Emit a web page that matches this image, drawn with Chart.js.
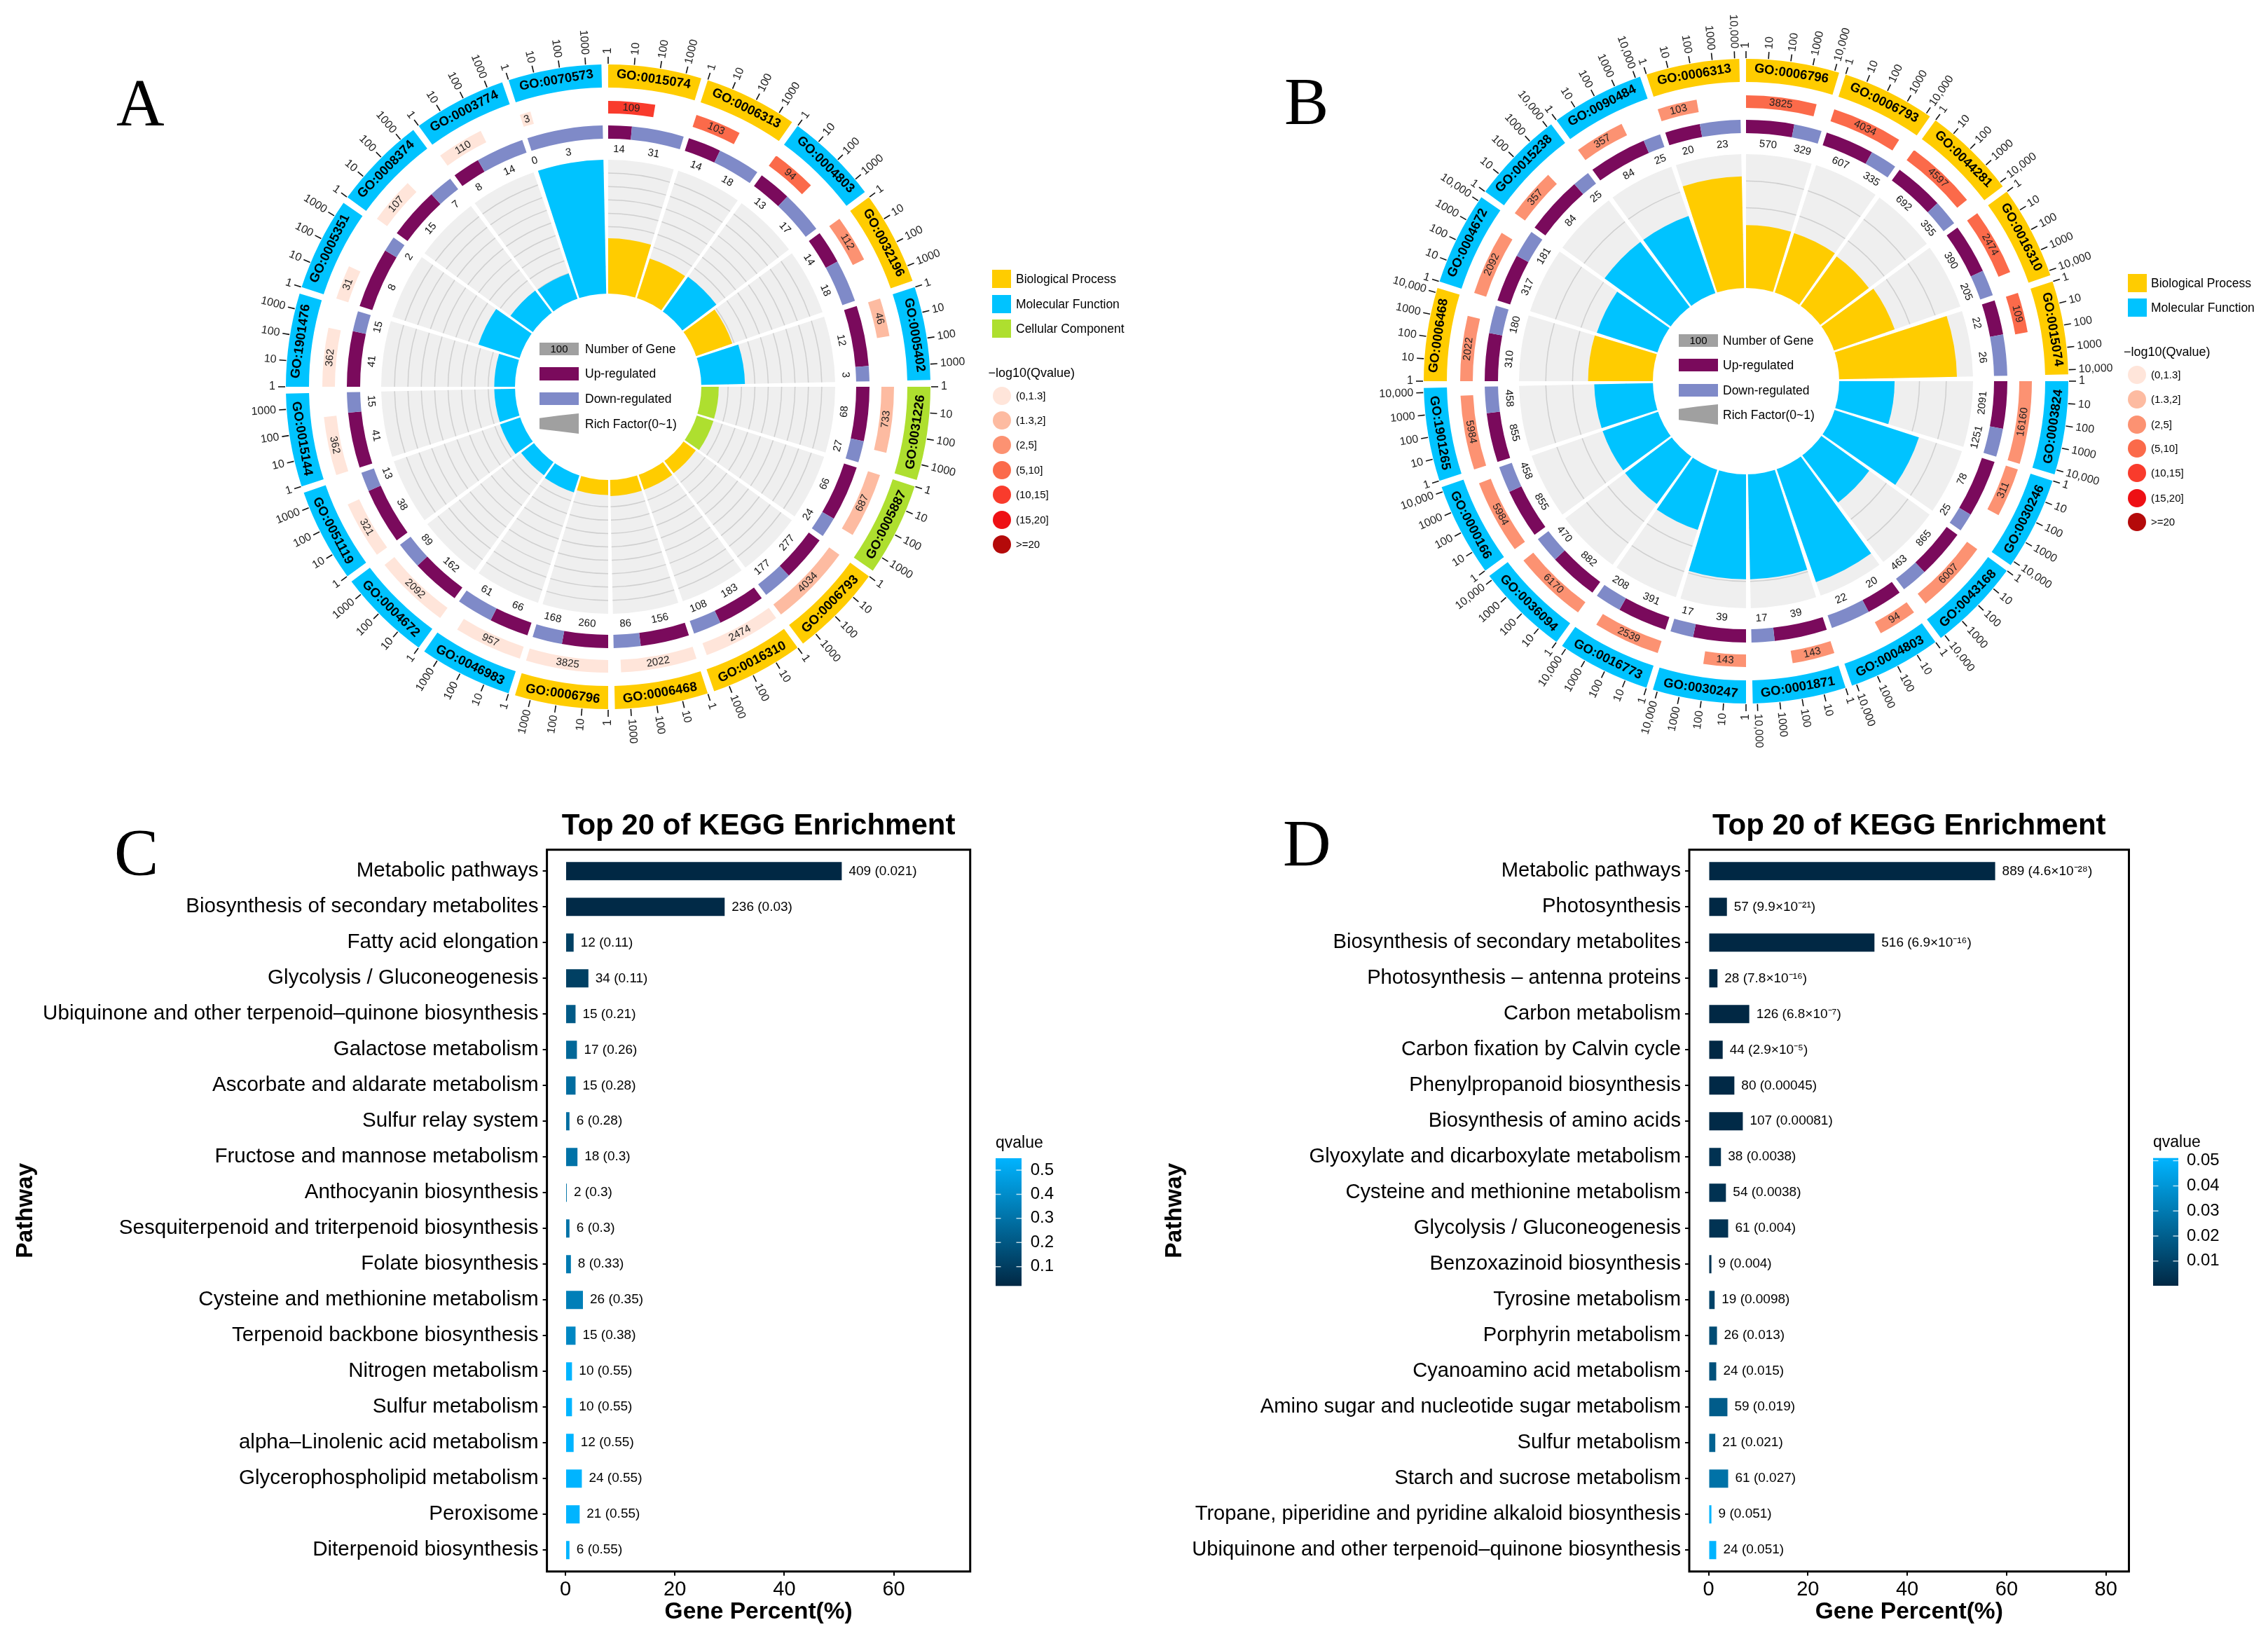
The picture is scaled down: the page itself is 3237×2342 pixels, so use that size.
<!DOCTYPE html>
<html><head><meta charset="utf-8">
<script src="https://cdn.jsdelivr.net/npm/chart.js@4"></script>
<style>
html,body{margin:0;padding:0;background:#fff;width:3237px;height:2342px;overflow:hidden;font-family:"Liberation Sans",Arial,sans-serif;color:#000}
canvas{position:absolute}
.t{position:absolute;line-height:0;white-space:nowrap;z-index:5}
.b{position:absolute;z-index:5}
</style></head><body>
<script>
// ---------- Panel A data (clockwise from 12 o'clock) ----------
const goA=['GO:0015074','GO:0006313','GO:0004803','GO:0032196','GO:0005402','GO:0031226','GO:0005887','GO:0006793','GO:0016310','GO:0006468','GO:0006796','GO:0046983','GO:0004672','GO:0051119','GO:0015144','GO:1901476','GO:0005351','GO:0008374','GO:0003774','GO:0070573'];
const catA=['BP','BP','MF','BP','MF','CC','CC','BP','BP','BP','BP','MF','MF','MF','MF','MF','MF','MF','MF','MF'];
const countA=[109,103,94,112,46,733,687,4034,2474,2022,3825,957,2092,321,362,362,31,107,110,3];
const qBinA=[4,3,3,2,1,1,1,1,0,0,0,0,0,0,0,0,0,0,0,0];
const upA=[14,14,13,14,12,68,66,277,183,156,260,66,162,38,41,41,8,15,8,0];
const downA=[31,18,17,18,3,27,24,177,108,86,168,61,89,13,15,15,2,7,14,3];
const richA=[0.413,0.311,0.319,0.286,0.326,0.13,0.131,0.113,0.118,0.12,0.112,0.133,0.12,0.159,0.155,0.155,0.323,0.206,0.2,1.0];
const tickA=[1,10,100,1000];
const tickLabA=['1','10','100','1000'];
const gridA=[0.1,0.2,0.3,0.4,0.5,0.6,0.7,0.8,0.9];
// ---------- Panel B data ----------
const goB=['GO:0006796','GO:0006793','GO:0044281','GO:0016310','GO:0015074','GO:0003824','GO:0030246','GO:0043168','GO:0004803','GO:0001871','GO:0030247','GO:0016773','GO:0036094','GO:0000166','GO:1901265','GO:0006468','GO:0004672','GO:0015238','GO:0090484','GO:0006313'];
const catB=['BP','BP','BP','BP','BP','MF','MF','MF','MF','MF','MF','MF','MF','MF','MF','BP','MF','MF','MF','BP'];
const countB=[3825,4034,4597,2474,109,16160,311,6007,94,143,143,2539,6170,5984,5984,2022,2092,357,357,103];
const qBinB=[3,3,3,3,3,2,2,2,2,2,2,2,2,2,2,2,2,2,2,2];
const upB=[570,607,692,390,22,2091,78,865,20,39,39,391,882,855,855,310,317,84,84,20];
const downB=[329,335,355,205,26,1251,25,463,22,17,17,208,470,458,458,180,181,25,25,23];
const richB=[0.235,0.2335,0.228,0.24,0.44,0.207,0.331,0.221,0.447,0.392,0.392,0.236,0.219,0.219,0.219,0.242,0.238,0.305,0.305,0.417];
const tickB=[1,10,100,1000,10000];
const tickLabB=['1','10','100','1000','10,000'];
const gridB=[0.1,0.2,0.3,0.4];
// ---------- Panel C data ----------
const pathC=['Metabolic pathways','Biosynthesis of secondary metabolites','Fatty acid elongation','Glycolysis / Gluconeogenesis','Ubiquinone and other terpenoid\u2013quinone biosynthesis','Galactose metabolism','Ascorbate and aldarate metabolism','Sulfur relay system','Fructose and mannose metabolism','Anthocyanin biosynthesis','Sesquiterpenoid and triterpenoid biosynthesis','Folate biosynthesis','Cysteine and methionine metabolism','Terpenoid backbone biosynthesis','Nitrogen metabolism','Sulfur metabolism','alpha\u2013Linolenic acid metabolism','Glycerophospholipid metabolism','Peroxisome','Diterpenoid biosynthesis'];
const pctC=[50.5,29.1,1.5,4.2,1.85,2.1,1.85,0.74,2.2,0.25,0.74,1.0,3.2,1.85,1.2,1.2,1.5,3.0,2.6,0.74];
const genesC=[409,236,12,34,15,17,15,6,18,2,6,8,26,15,10,10,12,24,21,6];
const qC=[0.021,0.03,0.11,0.11,0.21,0.26,0.28,0.28,0.3,0.3,0.3,0.33,0.35,0.38,0.55,0.55,0.55,0.55,0.55,0.55];
const qTextC=['0.021','0.03','0.11','0.11','0.21','0.26','0.28','0.28','0.3','0.3','0.3','0.33','0.35','0.38','0.55','0.55','0.55','0.55','0.55','0.55'];
const xTicksC=[0,20,40,60];
const qTicksC=[0.1,0.2,0.3,0.4,0.5];
// ---------- Panel D data ----------
const pathD=['Metabolic pathways','Photosynthesis','Biosynthesis of secondary metabolites','Photosynthesis \u2013 antenna proteins','Carbon metabolism','Carbon fixation by Calvin cycle','Phenylpropanoid biosynthesis','Biosynthesis of amino acids','Glyoxylate and dicarboxylate metabolism','Cysteine and methionine metabolism','Glycolysis / Gluconeogenesis','Benzoxazinoid biosynthesis','Tyrosine metabolism','Porphyrin metabolism','Cyanoamino acid metabolism','Amino sugar and nucleotide sugar metabolism','Sulfur metabolism','Starch and sucrose metabolism','Tropane, piperidine and pyridine alkaloid biosynthesis','Ubiquinone and other terpenoid\u2013quinone biosynthesis'];
const pctD=[57.7,3.7,33.4,1.8,8.2,2.85,5.2,6.9,2.5,3.5,3.95,0.58,1.23,1.7,1.55,3.8,1.36,3.95,0.58,1.55];
const genesD=[889,57,516,28,126,44,80,107,38,54,61,9,19,26,24,59,21,61,9,24];
const qD=[4.6e-28,9.9e-21,6.9e-16,7.8e-16,6.8e-7,2.9e-5,0.00045,0.00081,0.0038,0.0038,0.004,0.004,0.0098,0.013,0.015,0.019,0.021,0.027,0.051,0.051];
const qTextD=['4.6\u00d710\u207b\u00b2\u2078','9.9\u00d710\u207b\u00b2\u00b9','6.9\u00d710\u207b\u00b9\u2076','7.8\u00d710\u207b\u00b9\u2076','6.8\u00d710\u207b\u2077','2.9\u00d710\u207b\u2075','0.00045','0.00081','0.0038','0.0038','0.004','0.004','0.0098','0.013','0.015','0.019','0.021','0.027','0.051','0.051'];
const xTicksD=[0,20,40,60,80];
const qTicksD=[0.01,0.02,0.03,0.04,0.05];
// ---------- Legends ----------
const catNames={BP:'Biological Process',MF:'Molecular Function',CC:'Cellular Component'};
const binLabels=['(0,1.3]','(1.3,2]','(2,5]','(5,10]','(10,15]','(15,20]','>=20'];
const keyLabels=['Number of Gene','Up-regulated','Down-regulated','Rich Factor(0~1)'];

const FONT='"Liberation Sans",Arial,sans-serif';
const catColor={BP:'#FFCC00',MF:'#00C3FF',CC:'#AEDF2F'};
const binColor=['#FFE5DA','#FDBBA1','#FC9272','#FB6A4A','#F93B2C','#EE1014','#B40A0A'];
const UP='#7A0A5C',DOWN='#7F8AC8',GREY='#EFEFEF',GRID='#CFCFCF',KEY='#A0A0A0';
const SPAN=16.8,GAP=1.2,STEP=18;
const R_OUT=460,R_IN=354,R_GREY=324,R_HOLE=133;
Chart.defaults.font.family=FONT;
Chart.defaults.animation=false;

function el(cls,css,text){const d=document.createElement('div');d.className=cls;d.style.cssText=css;if(text!=null)d.textContent=text;document.body.appendChild(d);return d;}
function txt(s,x,y,size,extra){return el('t',`left:${x}px;top:${y}px;font-size:${size}px;${extra||''}`,s);}
function mk(left,top,w,h,z){const c=document.createElement('canvas');c.width=w;c.height=h;c.style.cssText=`left:${left}px;top:${top}px;width:${w}px;height:${h}px;z-index:${z}`;document.body.appendChild(c);return c.getContext('2d');}

function ringText(ctx,x,y,r,a,s){
  const th=((a+Math.PI/2)%(2*Math.PI)+2*Math.PI)%(2*Math.PI);
  const rot=(th>Math.PI/2&&th<1.5*Math.PI)?th-Math.PI:th;
  ctx.save();ctx.translate(x+r*Math.cos(a),y+r*Math.sin(a));ctx.rotate(rot);ctx.textAlign='center';ctx.textBaseline='middle';ctx.fillText(s,0,0);ctx.restore();
}

function circos(o){
  const rMin=-o.rMax*R_HOLE/(R_GREY-R_HOLE);
  const ang=[],greyData=[],barData=[],barCol=[];
  o.rich.forEach((v,i)=>{ang.push(SPAN,GAP);greyData.push(o.rMax,rMin);barData.push(v,rMin);barCol.push(catColor[o.cat[i]],'rgba(0,0,0,0)');});
  const gridPlugin={id:'sectorGrid',afterDatasetDraw(chart,args){
    if(args.index!==2)return;
    const ctx=chart.ctx,sc=chart.scales.r;
    ctx.save();ctx.strokeStyle=GRID;ctx.lineWidth=1.5;
    args.meta.data.forEach((a,i)=>{if(i%2)return;o.grid.forEach(g=>{ctx.beginPath();ctx.arc(a.x,a.y,sc.getDistanceFromCenterForValue(g),a.startAngle,a.endAngle);ctx.stroke();});});
    ctx.restore();
  }};
  new Chart(mk(o.cx-R_GREY,o.cy-R_GREY,2*R_GREY,2*R_GREY,1),{type:'polarArea',
    data:{labels:ang.map((_,i)=>i),datasets:[
      {data:[0],angle:[360],backgroundColor:'#fff',borderWidth:0},
      {data:barData,angle:ang,backgroundColor:barCol,borderWidth:0},
      {data:greyData,angle:ang,backgroundColor:ang.map((_,i)=>i%2?'rgba(0,0,0,0)':GREY),borderWidth:0}]},
    options:{responsive:false,events:[],layout:{padding:0},
      plugins:{legend:{display:false},tooltip:{enabled:false}},
      scales:{r:{min:rMin,max:o.rMax,beginAtZero:false,ticks:{display:false},grid:{display:false},angleLines:{display:false},pointLabels:{display:false}}}},
    plugins:[gridPlugin]});
  const goData=[],goCol=[],qData=[],qCol=[],udData=[],udCol=[];
  const lmax=Math.log10(Math.max(...o.count));
  o.go.forEach((g,i)=>{
    goData.push(SPAN,GAP);goCol.push(catColor[o.cat[i]],'rgba(0,0,0,0)');
    const ql=Math.log10(o.count[i])/lmax*SPAN;
    qData.push(ql,STEP-ql);qCol.push(binColor[o.bin[i]],'rgba(0,0,0,0)');
    const tot=o.up[i]+o.down[i];
    udData.push(o.up[i]/tot*SPAN,o.down[i]/tot*SPAN,GAP);udCol.push(UP,DOWN,'rgba(0,0,0,0)');
  });
  const labelPlugin={id:'ringLabels',afterDatasetsDraw(chart){
    const ctx=chart.ctx,m0=chart.getDatasetMeta(0).data,m2=chart.getDatasetMeta(2).data,m4=chart.getDatasetMeta(4).data;
    ctx.save();
    o.go.forEach((g,i)=>{
      const a=m0[2*i];
      const mid=(a.startAngle+a.endAngle)/2;
      ctx.fillStyle='#000';ctx.font=`bold 18.5px ${FONT}`;
      ringText(ctx,a.x,a.y,(a.innerRadius+a.outerRadius)/2,mid,g);
      const spanA=a.endAngle-a.startAngle;
      ctx.strokeStyle='#111';ctx.lineWidth=1.6;ctx.font=`16px ${FONT}`;ctx.fillStyle='#222';
      o.ticks.forEach((v,k)=>{
        const t=a.startAngle+Math.log10(v)/lmax*spanA;
        const c=Math.cos(t),s=Math.sin(t);
        ctx.beginPath();ctx.moveTo(a.x+(R_OUT+1)*c,a.y+(R_OUT+1)*s);ctx.lineTo(a.x+(R_OUT+11)*c,a.y+(R_OUT+11)*s);ctx.stroke();
        ctx.save();ctx.translate(a.x+(R_OUT+15)*c,a.y+(R_OUT+15)*s);
        const left=c<-1e-6||(Math.abs(c)<1e-6&&s>0);
        ctx.rotate(left?t+Math.PI:t);ctx.textAlign=left?'right':'left';ctx.textBaseline='middle';ctx.fillText(o.tickLab[k],0,0);ctx.restore();
      });
      const qa=m2[2*i];
      ctx.fillStyle='#222';ctx.font=`15px ${FONT}`;
      ringText(ctx,qa.x,qa.y,(qa.innerRadius+qa.outerRadius)/2,(qa.startAngle+qa.endAngle)/2,String(o.count[i]));
      const ua=m4[3*i],da=m4[3*i+1],lr=ua.innerRadius-15;
      ctx.fillStyle='#111';
      ringText(ctx,ua.x,ua.y,lr,(ua.startAngle+ua.endAngle)/2,String(o.up[i]));
      ringText(ctx,da.x,da.y,lr,(da.startAngle+da.endAngle)/2,String(o.down[i]));
    });
    ctx.restore();
  }};
  const SIDE=1100,PAD=SIDE/2-R_OUT;
  new Chart(mk(o.cx-SIDE/2,o.cy-SIDE/2,SIDE,SIDE,2),{type:'doughnut',
    data:{datasets:[
      {data:goData,backgroundColor:goCol,borderWidth:0,weight:33},
      {data:[1],backgroundColor:['rgba(0,0,0,0)'],borderWidth:0,weight:19},
      {data:qData,backgroundColor:qCol,borderWidth:0,weight:18},
      {data:[1],backgroundColor:['rgba(0,0,0,0)'],borderWidth:0,weight:17},
      {data:udData,backgroundColor:udCol,borderWidth:0,weight:19}]},
    options:{responsive:false,events:[],layout:{padding:PAD},cutout:(R_IN/R_OUT*100)+'%',radius:'100%',rotation:0,
      plugins:{legend:{display:false},tooltip:{enabled:false}}},
    plugins:[labelPlugin]});
  const k=o.key,rows=[k.y[0],k.y[1],k.y[2]];
  const cols=[KEY,UP,DOWN];
  rows.forEach((y,i)=>{el('b',`left:${k.x}px;top:${y}px;width:${k.w}px;height:${k.h}px;background:${cols[i]}`);txt(keyLabels[i],k.tx,y+k.h/2,17.5);});
  txt('100',k.x+k.w/2,k.y[0]+k.h/2,15,'transform:translateX(-50%)');
  el('b',`left:${k.x}px;top:${k.y[3]}px;width:${k.w}px;height:29px;background:${KEY};clip-path:polygon(0 23%,50% 10%,100% 0,100% 100%,50% 88%,0 77%)`);
  txt(keyLabels[3],k.tx,k.y[3]+14.5,17.5);
  const L=o.legend;
  o.cats.forEach((c,i)=>{el('b',`left:${L.x}px;top:${L.y[i]}px;width:26.5px;height:26px;background:${catColor[c]}`);txt(catNames[c],L.tx,L.y[i]+13,17.5);});
  txt('\u2212log10(Qvalue)',L.tix,L.tiy,18);
  binLabels.forEach((b,i)=>{el('b',`left:${L.cx-13}px;top:${L.cy[i]-13}px;width:26px;height:26px;border-radius:50%;background:${binColor[i]}`);txt(b,L.tx,L.cy[i],15);});
}

circos({cx:868,cy:552,go:goA,cat:catA,count:countA,bin:qBinA,up:upA,down:downA,rich:richA,rMax:1,grid:gridA,ticks:tickA,tickLab:tickLabA,cats:['BP','MF','CC'],
  key:{x:770,tx:835,w:56,h:18.3,y:[489,524.3,560,590]},
  legend:{x:1416.3,tx:1450,y:[385,420.6,456],tix:1410.5,tiy:532,cx:1429.6,cy:[564.5,600,635.4,670.8,706.3,741.7,776.5]}});
circos({cx:2492,cy:543.5,go:goB,cat:catB,count:countB,bin:qBinB,up:upB,down:downB,rich:richB,rMax:0.5,grid:gridB,ticks:tickB,tickLab:tickLabB,cats:['BP','MF'],
  key:{x:2396,tx:2459,w:56,h:18.3,y:[477,512,548,577]},
  legend:{x:3037.4,tx:3070,y:[390.7,426],tix:3031,tiy:502,cx:3050,cy:[534.6,570,605.5,640,675,710.5,745]}});

const LOW=[1,40,68],HIGH=[0,180,255];
function qColor(t){t=Math.max(0,Math.min(1,t));return `rgb(${LOW.map((l,i)=>Math.round(l+(HIGH[i]-l)*t)).join(',')})`;}

function bars(o){
  const W=o.canvasW,H=2342-1140;
  const boxL=o.boxL-o.left,boxR=o.boxR-o.left,boxT=1212.7-1140,boxB=2242.8-1140;
  const pxPer=o.pxPer,x0=o.x0-o.left;
  const xmin=(boxL-x0)/pxPer,xmax=(boxR-x0)/pxPer;
  const qt=t=>(t-o.qLo)/(o.qHi-o.qLo);
  const deco={id:'deco',afterDatasetsDraw(chart){
    const ctx=chart.ctx,{left,right,top,bottom}=chart.chartArea;
    ctx.save();
    ctx.fillStyle='#000';ctx.font=`19px ${FONT}`;ctx.textAlign='left';ctx.textBaseline='middle';
    chart.getDatasetMeta(0).data.forEach((b,i)=>ctx.fillText(`${o.genes[i]} (${o.qText[i]})`,b.x+10,b.y));
    ctx.strokeStyle='#000';ctx.lineWidth=3;ctx.strokeRect(left,top,right-left,bottom-top);
    const c=o.cbar,g=ctx.createLinearGradient(0,c.top-1140,0,c.bot-1140);
    g.addColorStop(0,qColor(1));g.addColorStop(1,qColor(0));
    ctx.fillStyle=g;ctx.fillRect(c.x-o.left,c.top-1140,c.w,c.bot-c.top);
    ctx.fillStyle='#000';ctx.font=`23px ${FONT}`;ctx.fillText('qvalue',c.x-o.left,c.titleY-1140);
    ctx.font=`24px ${FONT}`;
    const yOf=v=>c.y1+(v-c.v1)*(c.y2-c.y1)/(c.v2-c.v1)-1140;
    ctx.strokeStyle='rgba(255,255,255,0.75)';ctx.lineWidth=1.5;
    o.qTicks.forEach(v=>{const y=yOf(v);
      ctx.beginPath();ctx.moveTo(c.x-o.left,y);ctx.lineTo(c.x-o.left+7.5,y);ctx.moveTo(c.x-o.left+c.w-7.5,y);ctx.lineTo(c.x-o.left+c.w,y);ctx.stroke();
      ctx.fillText(String(v),c.lx-o.left,y);});
    ctx.restore();
  }};
  new Chart(mk(o.left,1140,W,H,1),{type:'bar',
    data:{datasets:[{data:o.pct.map((v,i)=>({x:v,y:i})),backgroundColor:o.q.map(v=>qColor(qt(v))),borderWidth:0,barPercentage:0.51,categoryPercentage:1}]},
    options:{indexAxis:'y',responsive:false,events:[],
      layout:{padding:{left:0,top:0,bottom:0,right:W-boxR}},
      plugins:{legend:{display:false},tooltip:{enabled:false},
        title:{display:true,text:'Top 20 of KEGG Enrichment',fullSize:false,color:'#000',font:{family:FONT,size:42,weight:'bold',lineHeight:1.2},padding:{top:14,bottom:boxT-14-50.4}}},
      scales:{
        x:{type:'linear',position:'bottom',min:xmin,max:xmax,
          afterBuildTicks:s=>{s.ticks=o.xTicks.map(v=>({value:v}));},
          afterFit:s=>{s.height=H-boxB;},
          grid:{drawOnChartArea:false,color:'#000',lineWidth:2,tickLength:6,tickColor:'#000'},border:{display:false},
          ticks:{color:'#000',font:{family:FONT,size:29},padding:3,maxRotation:0,autoSkip:false,callback:v=>String(v)},
          title:{display:true,text:'Gene Percent(%)',color:'#000',font:{family:FONT,size:33.5,weight:'bold',lineHeight:1.2},padding:{top:0,bottom:21}}},
        y:{type:'linear',position:'left',reverse:true,min:-0.6,max:19.6,offset:false,
          afterBuildTicks:s=>{s.ticks=o.names.map((_,i)=>({value:i}));},
          afterFit:s=>{s.width=boxL;},
          grid:{offset:false,drawOnChartArea:false,color:'#000',lineWidth:2,tickLength:6,tickColor:'#000'},border:{display:false},
          ticks:{color:'#000',font:{family:FONT,size:o.labelSize},padding:6,autoSkip:false,callback:v=>o.names[v]},
          title:{display:true,text:'Pathway',color:'#000',font:{family:FONT,size:33.5,weight:'bold',lineHeight:1.2},padding:{top:17,bottom:0}}}
      }},
    plugins:[deco]});
}
bars({left:0,canvasW:1600,labelSize:29.6,boxL:780.6,boxR:1384.7,x0:807,pxPer:7.81,names:pathC,pct:pctC,genes:genesC,q:qC,qText:qTextC,xTicks:xTicksC,qTicks:qTicksC,qLo:0.021,qHi:0.55,
  cbar:{x:1421,w:37,top:1653,bot:1835.3,titleY:1632,lx:1470.7,y1:1807.7,v1:0.1,y2:1670,v2:0.5}});
bars({left:1640,canvasW:1597,labelSize:29.2,boxL:2411,boxR:3038.5,x0:2438.5,pxPer:7.09,names:pathD,pct:pctD,genes:genesD,q:qD,qText:qTextD,xTicks:xTicksD,qTicks:qTicksD,qLo:0,qHi:0.051,
  cbar:{x:3073,w:36,top:1652.7,bot:1835,titleY:1631,lx:3121,y1:1799.7,v1:0.01,y2:1656.6,v2:0.05}});

[['A',166,179],['B',1833,177],['C',163,1249],['D',1831,1236]].forEach(([s,x,b])=>{
  txt(s,x,b-0.3375*95,95,'font-family:"Liberation Serif",serif');
});
</script>
</body></html>
